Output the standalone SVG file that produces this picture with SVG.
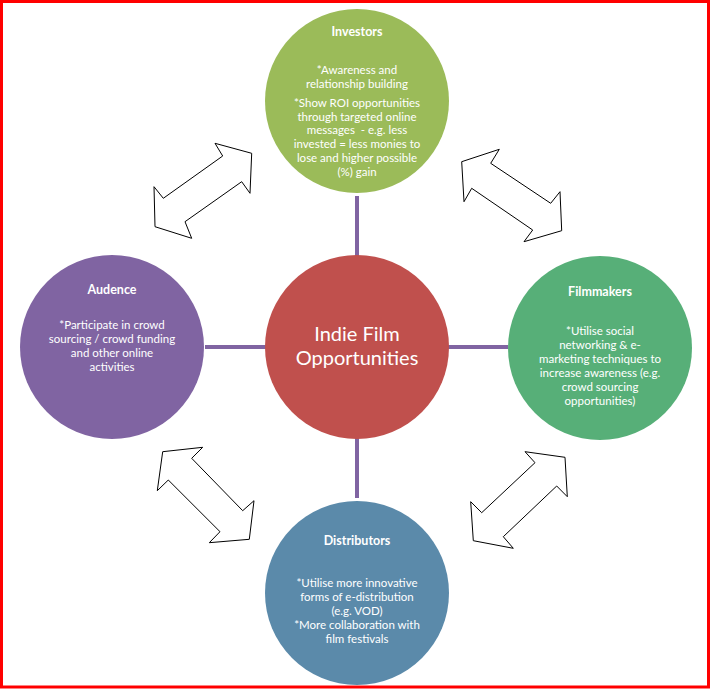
<svg xmlns="http://www.w3.org/2000/svg" width="711" height="690" viewBox="0 0 711 690">
<style>
.t{font-family:Lato,"Liberation Sans",sans-serif;fill:#fff;text-anchor:middle;font-size:11.5px}
.h{font-weight:bold;font-size:12.5px}
.c{font-size:20px}
.ln{stroke:#8064A2;stroke-width:4;fill:none}
.ar{fill:#fff;stroke:#000;stroke-width:1}
</style>
<rect x="0" y="0" width="711" height="690" fill="#fff"/>
<g id="connectors">
<line class="ln" x1="357" y1="196" x2="357" y2="256"/>
<line class="ln" x1="357" y1="438" x2="357" y2="498"/>
<line class="ln" x1="205" y1="347" x2="266" y2="347"/>
<line class="ln" x1="448" y1="347" x2="508" y2="347"/>
<polygon class="ar" points="215,143.3 251.7,153.3 250,193.3 241.7,181.7 185,221.7 191.7,238.3 155,226.7 154,186.7 163.3,198.3 222.7,156"/>
<polygon class="ar" points="461.7,161.7 499.3,149.3 490.7,163.3 550.7,203.3 560,191.7 561.7,230.7 524,241.7 532.7,230 471.7,188.3 464,201.7"/>
<polygon class="ar" points="162.7,451.7 202.7,447.3 191.7,458.3 242.7,510.7 254,500.7 249.3,539.3 209.3,542.7 220,531.7 168.3,480 157.3,490.7"/>
<polygon class="ar" points="525,451.7 565,457.3 567.3,496.7 556.7,486 503.3,536.7 513.3,548.3 473.3,540.7 470.7,501.7 481.7,512.7 535,462.7"/>
</g>
<g id="center">
<circle cx="357" cy="347" r="92" fill="#C0504D"/>
<text class="t c" x="357" y="341">Indie Film</text>
<text class="t c" x="357" y="365">Opportunities</text>
</g>
<g id="investors">
<circle cx="357" cy="101" r="92" fill="#9BBB59"/>
<text class="t h" x="357" y="36">Investors</text>
<text class="t" x="357" y="74">*Awareness and</text>
<text class="t" x="357" y="88">relationship building</text>
<text class="t" x="357" y="107">*Show ROI opportunities</text>
<text class="t" x="357" y="121">through targeted online</text>
<text class="t" x="357" y="134" xml:space="preserve">messages  - e.g. less</text>
<text class="t" x="357" y="148">invested = less monies to</text>
<text class="t" x="357" y="162">lose and higher possible</text>
<text class="t" x="357" y="176">(%) gain</text>
</g>
<g id="audence">
<circle cx="112" cy="347" r="92" fill="#8064A2"/>
<text class="t h" x="112" y="294">Audence</text>
<text class="t" x="112" y="329">*Participate in crowd</text>
<text class="t" x="112" y="343">sourcing / crowd funding</text>
<text class="t" x="112" y="357">and other online</text>
<text class="t" x="112" y="371">activities</text>
</g>
<g id="filmmakers">
<circle cx="600" cy="348" r="92" fill="#57AF78"/>
<text class="t h" x="600" y="296">Filmmakers</text>
<text class="t" x="600" y="335">*Utilise social</text>
<text class="t" x="600" y="349">networking &amp; e-</text>
<text class="t" x="600" y="363">marketing techniques to</text>
<text class="t" x="600" y="377">increase awareness (e.g.</text>
<text class="t" x="600" y="391">crowd sourcing</text>
<text class="t" x="600" y="405">opportunities)</text>
</g>
<g id="distributors">
<circle cx="357" cy="593" r="92" fill="#5B8AAA"/>
<text class="t h" x="357" y="545">Distributors</text>
<text class="t" x="357" y="587">*Utilise more innovative</text>
<text class="t" x="357" y="601">forms of e-distribution</text>
<text class="t" x="357" y="615">(e.g. VOD)</text>
<text class="t" x="357" y="629">*More collaboration with</text>
<text class="t" x="357" y="643">film festivals</text>
</g>
<rect x="1.5" y="1.5" width="707" height="685.5" fill="none" stroke="#FF0000" stroke-width="3"/>
</svg>
